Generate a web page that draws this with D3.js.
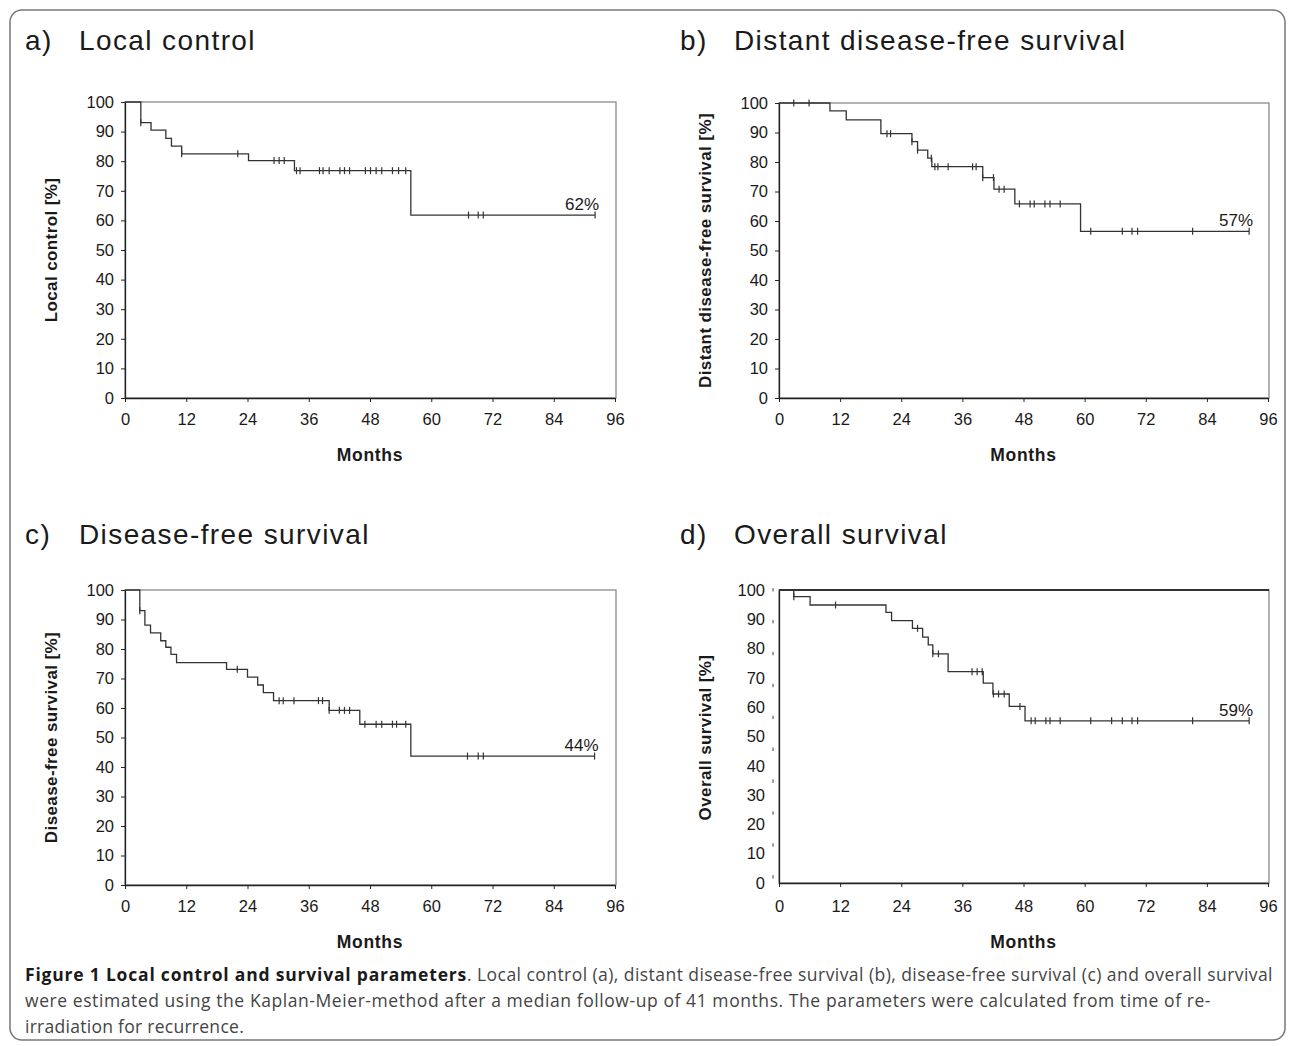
<!DOCTYPE html>
<html>
<head>
<meta charset="utf-8">
<script src="https://cdnjs.cloudflare.com/ajax/libs/d3/7.8.5/d3.min.js"></script>
<style>
body { margin: 0; background: #fff; }
svg { display: block; font-family: "Liberation Sans", Arial, sans-serif; }
</style>
</head>
<body>
<svg id="fig" width="1293" height="1046"></svg>
<script>
// tick labels
const monthTicks = [0, 12, 24, 36, 48, 60, 72, 84, 96];
const pctTicks = [0, 10, 20, 30, 40, 50, 60, 70, 80, 90, 100];

// a) local control: times of drops (months), level after each drop (%), censored times
const aDropTimes = [3.1, 5.1, 8.0, 9.1, 11.1, 24.2, 33.2, 56.0];
const aDropValues = [93.0, 90.5, 87.7, 85.1, 82.5, 80.2, 76.8, 61.8];
const aCensored = [3.1, 11.1, 22.1, 29.2, 30.2, 31.2, 33.6, 34.3, 38.1, 38.8, 40.0, 42.1, 43.0, 44.0,
  47.1, 48.1, 49.2, 50.3, 52.4, 53.6, 55.0, 67.3, 69.2, 70.2, 92.1];

// b) distant disease-free survival
const bDropTimes = [10.0, 13.2, 20.0, 26.1, 27.2, 29.2, 30.0, 40.0, 42.2, 46.3, 59.2];
const bDropValues = [97.3, 94.3, 89.6, 86.9, 84.0, 81.3, 78.4, 74.7, 70.8, 65.8, 56.5];
const bCensored = [2.9, 5.9, 21.2, 21.9, 26.1, 27.2, 29.9, 30.6, 31.2, 33.2, 38.0, 38.7, 40.0, 42.1,
  43.2, 44.2, 47.2, 49.3, 50.1, 52.2, 53.2, 55.2, 61.2, 67.4, 69.3, 70.4, 81.2, 92.3];

// c) disease-free survival
const cDropTimes = [2.9, 3.9, 5.0, 7.0, 8.0, 9.0, 10.1, 19.9, 24.0, 26.0, 27.1, 29.1, 40.0, 46.0, 56.0];
const cDropValues = [93.0, 88.1, 85.5, 82.8, 80.6, 78.2, 75.4, 73.1, 70.5, 67.8, 65.2, 62.5, 59.2, 54.5, 43.7];
const cCensored = [2.9, 22.0, 30.2, 31.0, 33.1, 37.9, 38.7, 40.0, 42.0, 43.0, 44.0, 47.0, 49.2, 50.3,
  52.4, 53.2, 55.0, 67.1, 69.2, 70.2, 92.0];

// d) overall survival
const dDropTimes = [2.9, 6.1, 21.0, 22.1, 26.2, 28.2, 29.3, 30.2, 33.2, 40.1, 42.0, 45.2, 48.3];
const dDropValues = [97.9, 95.3, 93.0, 90.4, 88.0, 85.2, 82.8, 80.0, 74.4, 70.8, 67.4, 63.5, 59.0];
const dCensored = [2.9, 11.1, 27.2, 30.2, 31.3, 37.9, 38.9, 39.9, 42.1, 43.1, 44.2, 47.3, 49.5, 50.3,
  52.4, 53.2, 55.2, 61.2, 65.3, 67.4, 69.3, 70.4, 81.2, 92.3];

const panels = [
  { letter: 'a)', title: 'Local control', yTitle: 'Local control [%]', endLabel: '62%',
    drops: aDropTimes, values: aDropValues, censored: aCensored,
    left: 125, right: 615, top: 102, bottom: 398, base: 398 },
  { letter: 'b)', title: 'Distant disease-free survival', yTitle: 'Distant disease-free survival [%]', endLabel: '57%',
    drops: bDropTimes, values: bDropValues, censored: bCensored,
    left: 779, right: 1268, top: 103, bottom: 398, base: 398 },
  { letter: 'c)', title: 'Disease-free survival', yTitle: 'Disease-free survival [%]', endLabel: '44%',
    drops: cDropTimes, values: cDropValues, censored: cCensored,
    left: 125, right: 615, top: 590, bottom: 885, base: 885 },
  // the scanned panel d has its curve stretched against the tick labels
  { letter: 'd)', title: 'Overall survival', yTitle: 'Overall survival [%]', endLabel: '59%',
    drops: dDropTimes, values: dDropValues, censored: dCensored,
    left: 779, right: 1268, top: 590, bottom: 883, base: 885, markBottom: 909, scanned: true }
];

const svg = d3.select('#fig');

svg.append('rect')
  .attr('x', 10).attr('y', 10)
  .attr('width', 1275).attr('height', 1030)
  .attr('rx', 12)
  .attr('fill', 'none')
  .attr('stroke', '#777')
  .attr('stroke-width', 1.5);

panels.forEach(p => drawPanel(p));

function drawPanel(p) {
  const g = svg.append('g');
  const x = d3.scaleLinear().domain([0, 96]).range([p.left, p.right]);
  const yLab = d3.scaleLinear().domain([0, 100]).range([p.bottom, p.top]);
  const y = p.scanned ? d3.scaleLinear().domain([0, 100]).range([p.markBottom, p.top]) : yLab;

  const colLeft = p.left < 500 ? 25 : 680;
  const titleY = p.top < 300 ? 50 : 544;
  g.append('text').attr('x', colLeft).attr('y', titleY)
    .attr('font-size', 28).attr('letter-spacing', 1.4).attr('fill', '#1a1a1a').text(p.letter);
  g.append('text').attr('x', colLeft + 54).attr('y', titleY)
    .attr('font-size', 28).attr('letter-spacing', 1.4).attr('fill', '#1a1a1a').text(p.title);

  // plot frame
  g.append('rect')
    .attr('x', p.left).attr('y', p.top)
    .attr('width', p.right - p.left + 1).attr('height', p.bottom - p.top)
    .attr('fill', 'none')
    .attr('stroke', '#8a8a8a')
    .attr('stroke-width', 1.3);
  if (p.scanned) {
    g.append('line')
      .attr('x1', p.left).attr('x2', p.right + 1)
      .attr('y1', p.top).attr('y2', p.top)
      .attr('stroke', '#333').attr('stroke-width', 2.2);
  }

  // y axis
  const ya = g.append('g')
    .attr('transform', `translate(${p.left},0)`)
    .call(d3.axisLeft(yLab).tickValues(pctTicks)
      .tickSize(p.scanned ? 0 : 4).tickSizeOuter(0)
      .tickPadding(p.scanned ? 14 : 7));
  ya.select('.domain').attr('stroke', '#222').attr('stroke-width', 1.3);
  ya.selectAll('.tick line').attr('stroke', '#222');
  ya.selectAll('.tick text').attr('font-size', 16.5).attr('fill', '#1a1a1a')
    .attr('font-family', '"Liberation Sans", Arial, sans-serif');

  if (p.scanned) {
    g.append('g').selectAll('line')
      .data(pctTicks.filter(v => v > 0))
      .join('line')
      .attr('x1', p.left - 6).attr('x2', p.left - 6)
      .attr('y1', v => y(v) - 2).attr('y2', v => y(v) + 1.5)
      .attr('stroke', '#444').attr('stroke-width', 1);
  }

  // x axis
  const xa = g.append('g')
    .attr('transform', `translate(0,${p.bottom})`)
    .call(d3.axisBottom(x).tickValues(monthTicks)
      .tickSize(4).tickSizeOuter(0)
      .tickPadding(p.base - p.bottom + 11));
  xa.select('.domain').attr('stroke', '#222').attr('stroke-width', 1.3);
  xa.selectAll('.tick line').attr('stroke', '#222');
  xa.selectAll('.tick text').attr('font-size', 16.5).attr('fill', '#1a1a1a')
    .attr('font-family', '"Liberation Sans", Arial, sans-serif');

  g.append('text')
    .attr('x', (p.left + p.right) / 2).attr('y', p.base + 63)
    .attr('text-anchor', 'middle')
    .attr('font-size', 17.5).attr('letter-spacing', 0.7)
    .attr('font-weight', 'bold').attr('fill', '#1a1a1a')
    .text('Months');

  g.append('text')
    .attr('transform', `translate(${p.left - 68},${(p.top + p.base) / 2}) rotate(-90)`)
    .attr('text-anchor', 'middle')
    .attr('font-size', 17).attr('letter-spacing', 0.4)
    .attr('font-weight', 'bold').attr('fill', '#1a1a1a')
    .text(p.yTitle);

  // Kaplan-Meier step curve
  const end = p.censored[p.censored.length - 1];
  const pts = [[0, 100]].concat(p.drops.map((t, i) => [t, p.values[i]]));
  pts.push([end, p.values[p.values.length - 1]]);
  const line = d3.line()
    .x(d => x(d[0])).y(d => y(d[1]))
    .curve(d3.curveStepAfter);
  g.append('path')
    .attr('d', line(pts))
    .attr('fill', 'none')
    .attr('stroke', '#333')
    .attr('stroke-width', 1.3);

  const levelAt = t => {
    let v = 100;
    p.drops.forEach((d, i) => { if (d <= t) v = p.values[i]; });
    return v;
  };
  g.append('g').selectAll('line')
    .data(p.censored)
    .join('line')
    .attr('x1', t => x(t)).attr('x2', t => x(t))
    .attr('y1', t => y(levelAt(t)) - 3.5)
    .attr('y2', t => y(levelAt(t)) + 3.5)
    .attr('stroke', '#333')
    .attr('stroke-width', 1.2);

  const last = p.values[p.values.length - 1];
  g.append('text')
    .attr('x', x(end) + 4).attr('y', y(last) - 5)
    .attr('text-anchor', 'end')
    .attr('font-size', 17).attr('fill', '#1a1a1a')
    .text(p.endLabel);
}

// caption: [text, bold, target width in px]
const capLines = [
  [['Figure 1 Local control and survival parameters', true, 442],
   ['. Local control (a), distant disease-free survival (b), disease-free survival (c) and overall survival', false, 806]],
  [['were estimated using the Kaplan-Meier-method after a median follow-up of 41 months. The parameters were calculated from time of re-', false, 1186]],
  [['irradiation for recurrence.', false, 219]]
];
const cap = svg.append('g')
  .attr('font-family', '"Open Sans", "Noto Sans", sans-serif')
  .attr('font-size', 17.5);
capLines.forEach((ln, i) => {
  const t = cap.append('text').attr('x', 25).attr('y', 981 + i * 26);
  ln.forEach(([s, b, w]) => {
    const ts = t.append('tspan')
      .attr('font-weight', b ? 'bold' : 'normal')
      .attr('fill', b ? '#1a1a1a' : '#444')
      .text(s);
    const len = ts.node().getComputedTextLength();
    ts.attr('letter-spacing', ((w - len) / s.length).toFixed(3));
  });
});
</script>
</body>
</html>
